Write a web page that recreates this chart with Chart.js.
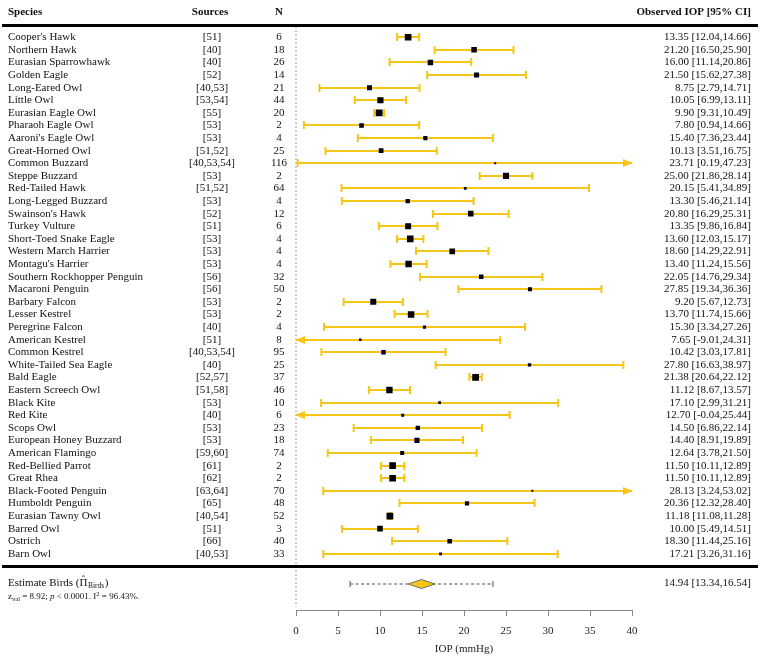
<!DOCTYPE html>
<html><head><meta charset="utf-8">
<script src="https://cdn.jsdelivr.net/npm/chart.js@4.4.1/dist/chart.umd.min.js"></script>
<style>html,body{margin:0;padding:0;background:#fff;}</style>
</head><body>
<canvas id="c" width="760" height="657"></canvas>
<script>
const species = ["Cooper's Hawk","Northern Hawk","Eurasian Sparrowhawk","Golden Eagle","Long-Eared Owl","Little Owl","Eurasian Eagle Owl","Pharaoh Eagle Owl","Aaroni's Eagle Owl","Great-Horned Owl","Common Buzzard","Steppe Buzzard","Red-Tailed Hawk","Long-Legged Buzzard","Swainson's Hawk","Turkey Vulture","Short-Toed Snake Eagle","Western March Harrier","Montagu's Harrier","Southern Rockhopper Penguin","Macaroni Penguin","Barbary Falcon","Lesser Kestrel","Peregrine Falcon","American Kestrel","Common Kestrel","White-Tailed Sea Eagle","Bald Eagle","Eastern Screech Owl","Black Kite","Red Kite","Scops Owl","European Honey Buzzard","American Flamingo","Red-Bellied Parrot","Great Rhea","Black-Footed Penguin","Humboldt Penguin","Eurasian Tawny Owl","Barred Owl","Ostrich","Barn Owl"];
const sources = ["[51]","[40]","[40]","[52]","[40,53]","[53,54]","[55]","[53]","[53]","[51,52]","[40,53,54]","[53]","[51,52]","[53]","[52]","[51]","[53]","[53]","[53]","[56]","[56]","[53]","[53]","[40]","[51]","[40,53,54]","[40]","[52,57]","[51,58]","[53]","[40]","[53]","[53]","[59,60]","[61]","[62]","[63,64]","[65]","[40,54]","[51]","[66]","[40,53]"];
const nValues = [6,18,26,14,21,44,20,2,4,25,116,2,64,4,12,6,4,4,4,32,50,2,2,4,8,95,25,37,46,10,6,23,18,74,2,2,70,48,52,3,40,33];
const iop = [13.35,21.20,16.00,21.50,8.75,10.05,9.90,7.80,15.40,10.13,23.71,25.00,20.15,13.30,20.80,13.35,13.60,18.60,13.40,22.05,27.85,9.20,13.70,15.30,7.65,10.42,27.80,21.38,11.12,17.10,12.70,14.50,14.40,12.64,11.50,11.50,28.13,20.36,11.18,10.00,18.30,17.21];
const ciLow = [12.04,16.50,11.14,15.62,2.79,6.99,9.31,0.94,7.36,3.51,0.19,21.86,5.41,5.46,16.29,9.86,12.03,14.29,11.24,14.76,19.34,5.67,11.74,3.34,-9.01,3.03,16.63,20.64,8.67,2.99,-0.04,6.86,8.91,3.78,10.11,10.11,3.24,12.32,11.08,5.49,11.44,3.26];
const ciHigh = [14.66,25.90,20.86,27.38,14.71,13.11,10.49,14.66,23.44,16.75,47.23,28.14,34.89,21.14,25.31,16.84,15.17,22.91,15.56,29.34,36.36,12.73,15.66,27.26,24.31,17.81,38.97,22.12,13.57,31.21,25.44,22.14,19.89,21.50,12.89,12.89,53.02,28.40,11.28,14.51,25.16,31.16];
const pooled = [14.94, 13.34, 16.54];
const predInterval = [6.44, 23.44];
const tau2 = 18.2;
const xTicks = [0,5,10,15,20,25,30,35,40];
const headers = ["Species","Sources","N","Observed IOP [95% CI]"];

const YELLOW = '#F5C518';
const SERIF = '"Liberation Serif", "Times New Roman", serif';

// marker size from random-effects weight
const wts = ciLow.map((l,i)=>{const se=(ciHigh[i]-l)/3.92; return 1/(se*se+tau2);});
const wMin = Math.min(...wts), wMax = Math.max(...wts);
const radii = wts.map(w => (2 + 4.8*(w-wMin)/(wMax-wMin)) / Math.SQRT2);

const fmt = v => v.toFixed(2);

const forestPlugin = {
  id: 'forest',
  beforeDatasetsDraw(chart) {
    const ctx = chart.ctx, xs = chart.scales.x, ys = chart.scales.y;
    const x0 = xs.getPixelForValue(0);
    ctx.save();
    ctx.strokeStyle = '#aaaaaa'; ctx.lineWidth = 1.5; ctx.setLineDash([1.5, 2.5]);
    ctx.beginPath(); ctx.moveTo(x0, ys.getPixelForValue(-0.85)); ctx.lineTo(x0, chart.chartArea.bottom - 3); ctx.stroke();
    ctx.restore();
    ctx.save();
    ctx.strokeStyle = YELLOW; ctx.fillStyle = YELLOW; ctx.lineWidth = 2;
    for (let i = 0; i < species.length; i++) {
      const y = Math.round(ys.getPixelForValue(i));
      const a = Math.max(ciLow[i], 0), b = Math.min(ciHigh[i], 40);
      const xa = xs.getPixelForValue(a), xb = xs.getPixelForValue(b);
      ctx.beginPath(); ctx.moveTo(xa, y); ctx.lineTo(xb, y); ctx.stroke();
      if (ciLow[i] < 0) {
        ctx.beginPath(); ctx.moveTo(xa - 1, y); ctx.lineTo(xa + 9, y - 4); ctx.lineTo(xa + 9, y + 4); ctx.closePath(); ctx.fill();
      } else {
        ctx.beginPath(); ctx.moveTo(xa, y - 4); ctx.lineTo(xa, y + 4); ctx.stroke();
      }
      if (ciHigh[i] > 40) {
        ctx.beginPath(); ctx.moveTo(xb + 1, y); ctx.lineTo(xb - 9, y - 4); ctx.lineTo(xb - 9, y + 4); ctx.closePath(); ctx.fill();
      } else {
        ctx.beginPath(); ctx.moveTo(xb, y - 4); ctx.lineTo(xb, y + 4); ctx.stroke();
      }
    }
    ctx.restore();
  },
  afterDatasetsDraw(chart) {
    const ctx = chart.ctx, xs = chart.scales.x, ys = chart.scales.y;
    ctx.save();
    ctx.fillStyle = '#111';
    ctx.textBaseline = 'middle';
    const hy = ys.getPixelForValue(-2.0);
    ctx.font = 'bold 11px ' + SERIF;
    ctx.textAlign = 'left'; ctx.fillText(headers[0], 8, hy);
    ctx.textAlign = 'center'; ctx.fillText(headers[1], 210, hy); ctx.fillText(headers[2], 279, hy);
    ctx.textAlign = 'right'; ctx.fillText(headers[3], 751, hy);
    ctx.font = '11px ' + SERIF;
    for (let i = 0; i < species.length; i++) {
      const y = ys.getPixelForValue(i);
      ctx.textAlign = 'left'; ctx.fillText(species[i], 8, y);
      ctx.textAlign = 'center'; ctx.fillText(sources[i], 212, y); ctx.fillText(String(nValues[i]), 279, y);
      ctx.textAlign = 'right'; ctx.fillText(fmt(iop[i]) + ' [' + fmt(ciLow[i]) + ',' + fmt(ciHigh[i]) + ']', 751, y);
    }
    ctx.strokeStyle = '#000'; ctx.lineWidth = 3;
    [-1, 42].forEach(r => {
      const y = Math.round(ys.getPixelForValue(r)) + 0.5;
      ctx.beginPath(); ctx.moveTo(2, y); ctx.lineTo(758, y); ctx.stroke();
    });
    // summary row
    const ey = Math.round(ys.getPixelForValue(43.4));
    const p1 = xs.getPixelForValue(predInterval[0]), p2 = xs.getPixelForValue(predInterval[1]);
    ctx.strokeStyle = '#888'; ctx.lineWidth = 1.5;
    ctx.setLineDash([3, 2.5]);
    ctx.beginPath(); ctx.moveTo(p1, ey); ctx.lineTo(p2, ey); ctx.stroke();
    ctx.setLineDash([]);
    ctx.beginPath(); ctx.moveTo(p1, ey - 3); ctx.lineTo(p1, ey + 3); ctx.moveTo(p2, ey - 3); ctx.lineTo(p2, ey + 3); ctx.stroke();
    const dl = xs.getPixelForValue(pooled[1]), dm = xs.getPixelForValue(pooled[0]), dr = xs.getPixelForValue(pooled[2]);
    ctx.beginPath(); ctx.moveTo(dl, ey); ctx.lineTo(dm, ey - 4.5); ctx.lineTo(dr, ey); ctx.lineTo(dm, ey + 4.5); ctx.closePath();
    ctx.fillStyle = YELLOW; ctx.fill(); ctx.strokeStyle = '#555'; ctx.lineWidth = 0.8; ctx.stroke();
    ctx.fillStyle = '#111';
    ctx.font = '11px ' + SERIF; ctx.textAlign = 'right';
    ctx.fillText(fmt(pooled[0]) + ' [' + fmt(pooled[1]) + ',' + fmt(pooled[2]) + ']', 751, ey - 1);
    // estimate label
    ctx.textAlign = 'left';
    let x = 8; const ly = ey - 1;
    const seg = (t, font, dy) => { ctx.font = font; ctx.fillText(t, x, ly + dy); x += ctx.measureText(t).width; };
    seg('Estimate Birds (', '11px ' + SERIF, 0);
    const px = x;
    seg('\u03A0', '11px ' + SERIF, 0);
    const pw = x - px;
    ctx.font = '10px ' + SERIF; ctx.textAlign = 'center';
    ctx.fillText('\u02C6', px + pw / 2, ly - 2.5);
    ctx.textAlign = 'left';
    x += 0.5;
    seg('Birds', '7.5px ' + SERIF, 3);
    x += 0.5;
    seg(')', '11px ' + SERIF, 0);
    x = 8; const zy = ey + 13;
    const seg2 = (t, font, dy) => { ctx.font = font; ctx.fillText(t, x, zy + dy); x += ctx.measureText(t).width; };
    seg2('z', '9px ' + SERIF, 0);
    seg2('val', '6.5px ' + SERIF, 2);
    seg2(' = 8.92; ', '9px ' + SERIF, 0);
    seg2('p', 'italic 9px ' + SERIF, 0);
    seg2(' < 0.0001. I', '9px ' + SERIF, 0);
    seg2('2', '6.5px ' + SERIF, -3);
    seg2(' = 96.43%.', '9px ' + SERIF, 0);
    ctx.restore();
  }
};

new Chart(document.getElementById('c'), {
  type: 'scatter',
  data: {
    datasets: [{
      data: iop.map((v, i) => ({ x: v, y: i })),
      pointStyle: 'rect',
      pointRadius: radii,
      pointHoverRadius: radii,
      pointBackgroundColor: '#000',
      pointBorderWidth: 0,
      borderWidth: 0
    }]
  },
  options: {
    responsive: false,
    devicePixelRatio: 1,
    animation: false,
    events: [],
    layout: { padding: { left: 296, right: 128, top: 0, bottom: 0 } },
    plugins: { legend: { display: false }, tooltip: { enabled: false } },
    scales: {
      x: {
        type: 'linear', position: 'bottom', min: 0, max: 40,
        afterBuildTicks: s => { s.ticks = xTicks.map(v => ({ value: v })); },
        afterFit: s => { s.height = 47; },
        grid: { drawOnChartArea: false, drawTicks: true, tickLength: 6, color: '#888', lineWidth: 1 },
        border: { display: true, color: '#888', width: 1 },
        ticks: { font: { family: SERIF, size: 11 }, color: '#222', padding: 9, maxRotation: 0, autoSkip: false },
        title: { display: true, text: 'IOP (mmHg)', font: { family: SERIF, size: 11 }, color: '#222', padding: { top: 0, bottom: 1 } }
      },
      y: { type: 'linear', display: false, reverse: true, min: -2.575, max: 45.455 }
    }
  },
  plugins: [forestPlugin]
});
</script>
</body></html>
